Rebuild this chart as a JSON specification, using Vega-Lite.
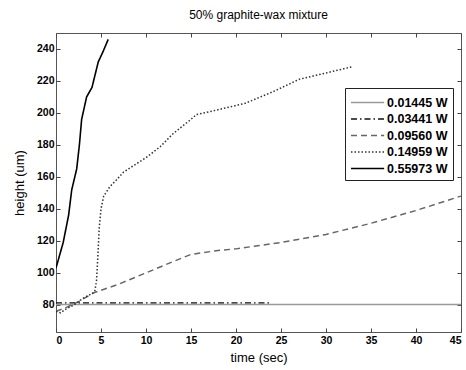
{
  "$schema": "https://vega.github.io/schema/vega-lite/v6.json",
  "width": 405,
  "height": 299,
  "autosize": {"type": "none"},
  "padding": {"left": 56, "top": 33, "right": 5, "bottom": 38},
  "background": "white",
  "config": {
    "view": {"stroke": "#555", "strokeWidth": 1},
    "font": "Liberation Sans",
    "axis": {"grid": false, "domain": false, "tickColor": "#444", "tickSize": -4, "labelFont": "Liberation Sans", "labelFontWeight": "bold", "labelFontSize": 10.5, "labelColor": "black", "titleFont": "Liberation Sans", "titleFontWeight": "normal", "titleFontSize": 13, "titleColor": "black"},
    "legend": {"orient": "none", "legendX": 289, "legendY": 55, "strokeColor": "#222", "fillColor": "white", "padding": 5, "symbolType": "M-1,0L2.9,0", "symbolSize": 289, "labelFont": "Liberation Sans", "labelFontWeight": "bold", "labelFontSize": 12.5, "labelColor": "black", "rowPadding": 0.5, "labelOffset": 18, "cornerRadius": 0}
  },
  "title": {"text": "50% graphite-wax mixture", "fontSize": 12, "fontWeight": "normal", "font": "Liberation Sans", "anchor": "middle", "offset": 11, "color": "black"},
  "data": {"values": [
    {"t": 0, "h": 80.2, "s": "0.01445 W"}, {"t": 45, "h": 80.2, "s": "0.01445 W"},
    {"t": 0, "h": 81.2, "s": "0.03441 W"}, {"t": 24, "h": 81.2, "s": "0.03441 W"},
    {"t": 0, "h": 76, "s": "0.09560 W"}, {"t": 1, "h": 78, "s": "0.09560 W"}, {"t": 2.5, "h": 82, "s": "0.09560 W"}, {"t": 4.2, "h": 87.5, "s": "0.09560 W"}, {"t": 7, "h": 93, "s": "0.09560 W"}, {"t": 10, "h": 100, "s": "0.09560 W"}, {"t": 13, "h": 107, "s": "0.09560 W"}, {"t": 15, "h": 111.5, "s": "0.09560 W"}, {"t": 18, "h": 114, "s": "0.09560 W"}, {"t": 20, "h": 115, "s": "0.09560 W"}, {"t": 25, "h": 119, "s": "0.09560 W"}, {"t": 30, "h": 124, "s": "0.09560 W"}, {"t": 35, "h": 131, "s": "0.09560 W"}, {"t": 40, "h": 139, "s": "0.09560 W"}, {"t": 45, "h": 148, "s": "0.09560 W"},
    {"t": 0, "h": 76, "s": "0.14959 W"}, {"t": 0.5, "h": 75, "s": "0.14959 W"}, {"t": 1, "h": 77, "s": "0.14959 W"}, {"t": 2, "h": 80, "s": "0.14959 W"}, {"t": 3, "h": 84, "s": "0.14959 W"}, {"t": 4.3, "h": 88, "s": "0.14959 W"}, {"t": 4.5, "h": 95, "s": "0.14959 W"}, {"t": 4.65, "h": 110, "s": "0.14959 W"}, {"t": 4.8, "h": 128, "s": "0.14959 W"}, {"t": 5, "h": 140, "s": "0.14959 W"}, {"t": 5.3, "h": 148, "s": "0.14959 W"}, {"t": 6, "h": 154, "s": "0.14959 W"}, {"t": 6.7, "h": 158, "s": "0.14959 W"}, {"t": 7.5, "h": 163, "s": "0.14959 W"}, {"t": 8.6, "h": 167, "s": "0.14959 W"}, {"t": 10, "h": 172, "s": "0.14959 W"}, {"t": 11.6, "h": 179, "s": "0.14959 W"}, {"t": 13, "h": 187, "s": "0.14959 W"}, {"t": 15, "h": 196, "s": "0.14959 W"}, {"t": 15.6, "h": 199, "s": "0.14959 W"}, {"t": 18, "h": 202, "s": "0.14959 W"}, {"t": 21, "h": 206, "s": "0.14959 W"}, {"t": 24, "h": 213, "s": "0.14959 W"}, {"t": 27, "h": 221, "s": "0.14959 W"}, {"t": 30, "h": 225, "s": "0.14959 W"}, {"t": 33, "h": 229, "s": "0.14959 W"},
    {"t": 0, "h": 103, "s": "0.55973 W"}, {"t": 0.8, "h": 119, "s": "0.55973 W"}, {"t": 1.4, "h": 136, "s": "0.55973 W"}, {"t": 1.75, "h": 152, "s": "0.55973 W"}, {"t": 2.3, "h": 165, "s": "0.55973 W"}, {"t": 2.6, "h": 180, "s": "0.55973 W"}, {"t": 2.85, "h": 196, "s": "0.55973 W"}, {"t": 3.4, "h": 210, "s": "0.55973 W"}, {"t": 4, "h": 216, "s": "0.55973 W"}, {"t": 4.7, "h": 232, "s": "0.55973 W"}, {"t": 5.2, "h": 238, "s": "0.55973 W"}, {"t": 5.8, "h": 246, "s": "0.55973 W"}
  ]},
  "layer": [
    {
      "mark": {"type": "line", "clip": true},
      "encoding": {
        "x": {"field": "t", "type": "quantitative", "scale": {"domain": [0, 45], "nice": false, "zero": false}, "axis": {"title": "time (sec)", "values": [0, 5, 10, 15, 20, 25, 30, 35, 40, 45], "labelPadding": 7, "titlePadding": 6}},
        "y": {"field": "h", "type": "quantitative", "scale": {"domain": [63, 250], "nice": false, "zero": false}, "axis": {"title": "height (um)", "values": [80, 100, 120, 140, 160, 180, 200, 220, 240], "labelPadding": 6, "titlePadding": 10}},
        "color": {"field": "s", "type": "nominal", "scale": {"range": ["#9a9a9a", "#111111", "#666666", "#333333", "#000000"]}, "legend": {"title": null}},
        "strokeDash": {"field": "s", "type": "nominal", "scale": {"range": [[1, 0], [6, 3, 1.5, 3], [6, 4], [1.5, 2], [1, 0]]}, "legend": {"title": null}},
        "strokeWidth": {"field": "s", "type": "nominal", "scale": {"range": [1.3, 1.6, 1.3, 2.2, 3.2]}, "legend": {"title": null}},
        "order": {"field": "t", "type": "quantitative"}
      }
    },
    {
      "mark": {"type": "line", "opacity": 0},
      "encoding": {
        "x": {"field": "t", "type": "quantitative", "axis": {"orient": "top", "labels": false, "title": null, "values": [0, 5, 10, 15, 20, 25, 30, 35, 40, 45]}},
        "y": {"field": "h", "type": "quantitative", "axis": {"orient": "right", "labels": false, "title": null, "values": [80, 100, 120, 140, 160, 180, 200, 220, 240]}}
      }
    }
  ],
  "resolve": {"axis": {"x": "independent", "y": "independent"}}
}
